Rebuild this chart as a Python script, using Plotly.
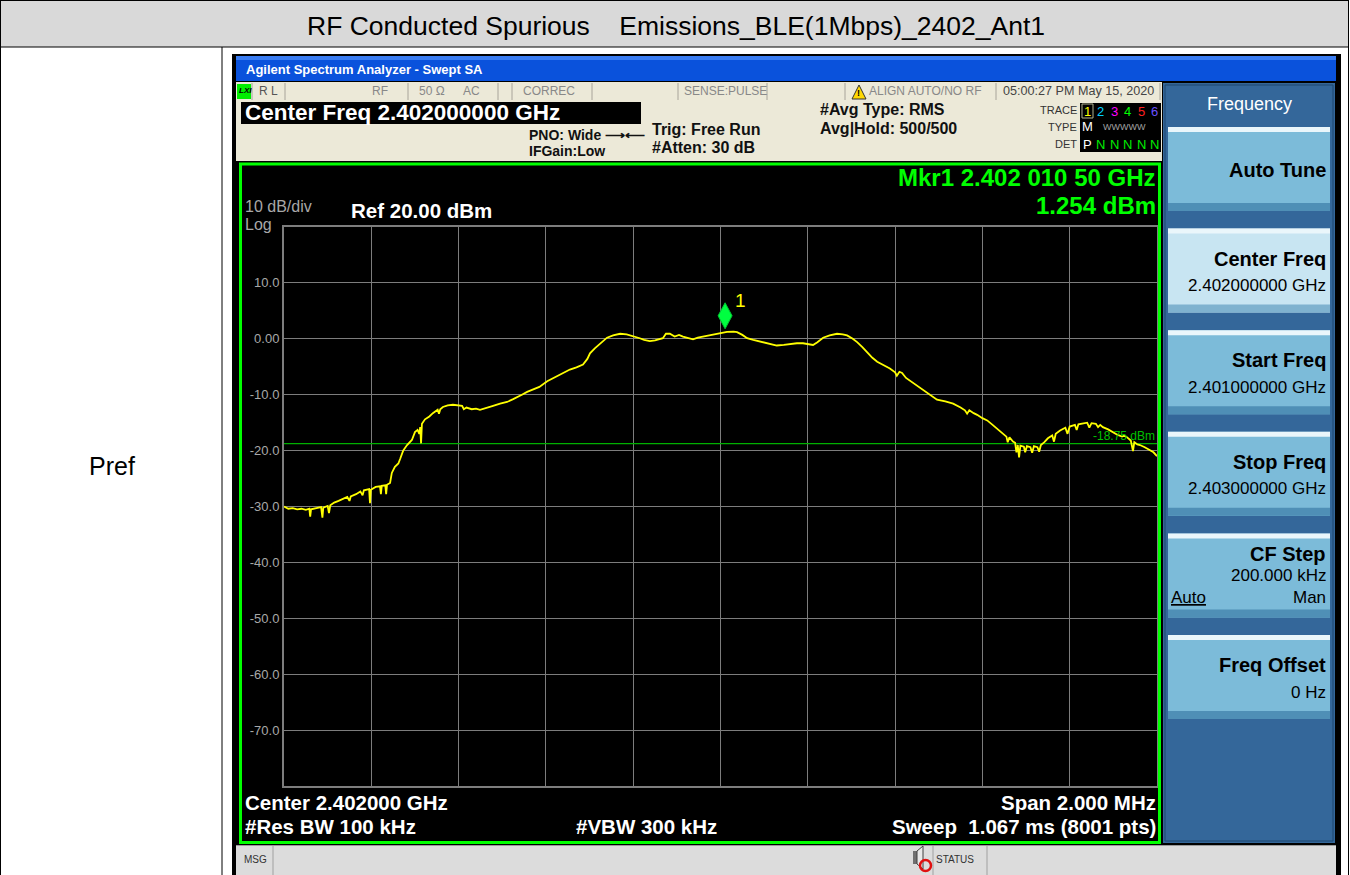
import plotly.graph_objects as go

# ---------------- data ----------------
start_ghz = 2.401
stop_ghz = 2.403
center_ghz = 2.402
ref_dbm = 20.0
bottom_dbm = -80.0

# trace: frequency offset from start (MHz) and level (dBm)
trace_off_mhz = [
    0.000, 0.010, 0.020, 0.030, 0.040, 0.050, 0.058, 0.060, 0.062, 0.075, 0.085, 0.088, 0.090,
    0.100, 0.103, 0.106, 0.115, 0.125, 0.135, 0.145, 0.150, 0.153, 0.165, 0.175, 0.180, 0.183,
    0.195, 0.197, 0.199, 0.210, 0.220, 0.222, 0.224, 0.232, 0.234, 0.236, 0.243, 0.247, 0.254,
    0.262, 0.266, 0.273, 0.282, 0.293, 0.300, 0.306, 0.310, 0.312, 0.314, 0.316, 0.323, 0.333,
    0.341, 0.352, 0.355, 0.358, 0.364, 0.375, 0.387, 0.398, 0.408, 0.412, 0.418, 0.430, 0.440,
    0.449, 0.460, 0.479, 0.495, 0.511, 0.525, 0.534, 0.545, 0.557, 0.570, 0.585, 0.603, 0.620,
    0.632, 0.645, 0.655, 0.670, 0.685, 0.695, 0.701, 0.712, 0.724, 0.740, 0.754, 0.770, 0.785,
    0.800, 0.815, 0.825, 0.838, 0.850, 0.860, 0.868, 0.875, 0.884, 0.895, 0.905, 0.914, 0.925,
    0.937, 0.948, 0.960, 0.975, 0.992, 1.005, 1.015, 1.030, 1.038, 1.050, 1.061, 1.075, 1.090,
    1.110, 1.129, 1.145, 1.159, 1.175, 1.189, 1.200, 1.212, 1.222, 1.235, 1.250, 1.267, 1.280,
    1.290, 1.303, 1.313, 1.325, 1.336, 1.348, 1.359, 1.375, 1.388, 1.400, 1.404, 1.410, 1.416,
    1.425, 1.434, 1.446, 1.457, 1.475, 1.496, 1.515, 1.533, 1.550, 1.560, 1.565, 1.570, 1.580,
    1.588, 1.600, 1.611, 1.622, 1.633, 1.645, 1.655, 1.658, 1.662, 1.670, 1.675, 1.678, 1.681,
    1.684, 1.687, 1.695, 1.698, 1.702, 1.710, 1.714, 1.718, 1.726, 1.730, 1.734, 1.742, 1.750,
    1.760, 1.764, 1.768, 1.778, 1.790, 1.795, 1.800, 1.812, 1.816, 1.820, 1.830, 1.840, 1.845,
    1.850, 1.860, 1.865, 1.870, 1.876, 1.888, 1.899, 1.910, 1.920, 1.925, 1.931, 1.940, 1.945,
    1.948, 1.955, 1.961, 1.972, 1.984, 1.992, 2.000,
]
trace_dbm = [
    -30.0, -30.4, -30.3, -30.5, -30.4, -30.6, -30.4, -31.8, -30.5, -30.3, -30.1, -32.0, -30.2,
    -29.9, -31.2, -29.8, -29.3, -29.0, -28.7, -28.3, -29.0, -28.2, -27.8, -27.3, -28.0, -27.1,
    -26.9, -29.4, -27.0, -26.5, -26.4, -27.8, -26.3, -26.2, -27.8, -26.1, -25.8, -24.0, -22.9,
    -22.3, -21.5, -20.0, -19.0, -18.1, -16.7, -16.3, -17.0, -15.8, -18.7, -15.2, -14.4, -13.9,
    -13.3, -12.7, -13.4, -12.6, -12.2, -11.9, -11.8, -11.9, -12.0, -12.6, -12.3, -12.6, -12.5,
    -12.7, -12.4, -12.0, -11.6, -11.3, -10.8, -10.5, -10.0, -9.5, -9.1, -8.6, -7.6, -6.9,
    -6.3, -5.8, -5.5, -5.1, -4.6, -3.6, -2.6, -1.7, -0.9, 0.2, 0.6, 0.9, 0.8,
    0.5, 0.1, -0.2, -0.4, -0.3, -0.1, 0.1, 0.9, 0.9, 0.4, 0.7, 0.4, 0.2,
    -0.1, 0.2, 0.4, 0.6, 0.9, 1.1, 1.25, 1.3, 1.2, 0.7, 0.1, -0.2, -0.5,
    -0.9, -1.2, -1.1, -0.9, -0.8, -0.8, -0.9, -1.1, -0.6, 0.2, 0.6, 0.9, 0.8,
    0.6, 0.0, -0.6, -1.5, -2.4, -3.4, -4.1, -4.8, -5.3, -6.0, -6.6, -5.9, -6.1,
    -7.0, -7.5, -8.2, -8.8, -9.8, -10.9, -11.2, -11.6, -12.3, -12.8, -13.4, -12.8, -13.3,
    -13.6, -14.2, -14.6, -15.3, -16.0, -16.9, -17.5, -18.5, -17.6, -18.4, -18.6, -20.3, -19.0,
    -21.2, -19.1, -19.3, -20.3, -19.2, -19.4, -20.4, -19.2, -19.4, -20.2, -19.0, -18.5, -17.8,
    -17.3, -18.4, -17.0, -16.4, -15.9, -17.0, -15.7, -15.4, -16.3, -15.3, -15.1, -15.0, -15.9,
    -15.1, -15.2, -15.8, -15.4, -15.8, -16.2, -16.7, -17.2, -17.5, -17.3, -17.6, -18.2, -20.1,
    -18.5, -18.9, -19.0, -19.4, -19.9, -20.3, -21.0,
]

marker_ghz = 2.4020105
marker_dbm = 1.254
display_line_dbm = -18.75

y_tick_vals = [20, 10, 0, -10, -20, -30, -40, -50, -60, -70, -80]
y_tick_text = ["", "10.0", "0.00", "-10.0", "-20.0", "-30.0", "-40.0", "-50.0", "-60.0", "-70.0", ""]

table_title = "RF Conducted Spurious\u00a0\u00a0\u00a0\u00a0Emissions_BLE(1Mbps)_2402_Ant1"
row_label = "Pref"

softkey_titles = ["Auto Tune", "Center Freq", "Start Freq", "Stop Freq", "CF Step", "Freq Offset"]
softkey_values = ["", "2.402000000 GHz", "2.401000000 GHz", "2.403000000 GHz", "200.000 kHz", "0 Hz"]

trace_nums = ["1", "2", "3", "4", "5", "6"]
trace_num_colors = ["#ffff00", "#00d0ff", "#ff00ff", "#00ff00", "#ff2020", "#6a50ff"]

# ---------------- helpers ----------------
W, H = 1350, 875
FONT = "Arial, Liberation Sans, sans-serif"


def px(x):
    return x / W


def py(y):
    return 1 - y / H


shapes = []
annotations = []


def rect(x0, y0, x1, y1, fill, line_color=None, line_width=0, layer="below"):
    shapes.append(dict(type="rect", xref="paper", yref="paper",
                       x0=px(x0), x1=px(x1), y0=py(y1), y1=py(y0),
                       fillcolor=fill,
                       line=dict(color=line_color or fill, width=line_width),
                       layer=layer))


def hline(x0, x1, y, color, width=1, layer="below"):
    shapes.append(dict(type="line", xref="paper", yref="paper",
                       x0=px(x0), x1=px(x1), y0=py(y), y1=py(y),
                       line=dict(color=color, width=width), layer=layer))


def vline(x, y0, y1, color, width=1, layer="below"):
    shapes.append(dict(type="line", xref="paper", yref="paper",
                       x0=px(x), x1=px(x), y0=py(y0), y1=py(y1),
                       line=dict(color=color, width=width), layer=layer))


def text(x, y, s, size, color, anchor="left", bold=False, family=FONT):
    if bold:
        s = "<b>" + s + "</b>"
    annotations.append(dict(xref="paper", yref="paper", x=px(x), y=py(y),
                            text=s, showarrow=False, xanchor=anchor, yanchor="middle",
                            font=dict(size=size, color=color, family=family),
                            borderpad=0))


# ---------------- table ----------------
rect(1, 1, 1348, 47, "#d9d9d9")
hline(0, 1349, 0.5, "black", 1)
hline(0, 1349, 47, "black", 1)
vline(0.5, 0, 875, "black", 1)
vline(1348.5, 0, 875, "black", 1)
vline(222, 47, 875, "black", 1)
text(676, 26, table_title, 26.5, "black", anchor="center")
text(112, 466, row_label, 25, "black", anchor="center")

# ---------------- analyzer window ----------------
rect(232, 54, 1341, 875, "#000000")
# title bar
rect(236, 56, 1336, 81, "#0a52dc")
rect(236, 56, 1336, 60, "#3a7df2")
text(245, 70, "Agilent Spectrum Analyzer - Swept SA", 13, "white", bold=True)
# status row
rect(236, 82, 1162, 101, "#ece9d8")
for xs in [252, 285, 408, 498, 512, 592, 678, 767, 845, 996, 1160]:
    vline(xs, 83, 100, "#a8a49a", 1)
rect(237, 84, 251, 99, "#00ee00")
text(238, 91, "<i>LXI</i>", 8, "black", bold=True)
text(258, 91, "R L", 12, "#555555")
text(371, 91, "RF", 12, "#888888")
text(418, 91, "50 Ω", 12, "#888888")
text(462, 91, "AC", 12, "#888888")
text(522, 91, "CORREC", 12, "#888888")
text(683, 91, "SENSE:PULSE", 12, "#888888")
shapes.append(dict(type="path", xref="paper", yref="paper",
                   path="M {} {} L {} {} L {} {} Z".format(px(852), py(99), px(859), py(85), px(866), py(99)),
                   fillcolor="#ffd800", line=dict(color="#333333", width=1), layer="above"))
text(859, 93, "!", 9, "black", anchor="center", bold=True)
text(868, 91, "ALIGN AUTO/NO RF", 12, "#888888")
text(1002, 91, "05:00:27 PM May 15, 2020", 12.6, "#444444")
# second row
rect(236, 101, 1162, 161, "#ece9d8")
rect(241, 102, 641, 124, "#000000")
text(244, 113, "Center Freq 2.402000000 GHz", 22.5, "white", bold=True)
text(528, 135, "PNO: Wide ⟶⟵", 14, "#111111", bold=True)
text(528, 151, "IFGain:Low", 14, "#111111", bold=True)
text(651, 129, "Trig: Free Run", 16, "#111111", bold=True)
text(651, 147, "#Atten: 30 dB", 16, "#111111", bold=True)
text(819, 110, "#Avg Type: RMS", 16, "#111111", bold=True)
text(819, 128, "Avg|Hold: 500/500", 16, "#111111", bold=True)
text(1078, 110, "TRACE", 11, "#333333", anchor="right")
text(1078, 127, "TYPE", 11, "#333333", anchor="right")
text(1078, 144, "DET", 11, "#333333", anchor="right")
rect(1080, 103, 1161, 152, "#000000")
rect(1082, 104, 1093, 118, "#000000", line_color="#b0b090", line_width=1, layer="above")
for i, (t, c) in enumerate(zip(trace_nums, trace_num_colors)):
    text(1087 + i * 13.5, 111, t, 13, c, anchor="center")
text(1087, 127, "M", 13, "#ffffff", anchor="center")
text(1124, 127, "WWWWW", 9, "#a0a0a0", anchor="center")
text(1087, 144, "P", 13, "#ffffff", anchor="center")
for i in range(1, 6):
    text(1087 + i * 13.5, 144, "N", 13, "#00ee00", anchor="center")

# display area
rect(240, 163, 1160, 843, "#000000")
rect(240.5, 164, 1159.5, 842.5, "rgba(0,0,0,0)", line_color="#00ff00", line_width=3, layer="above")
text(244, 207, "10 dB/div", 16, "#a8a8a8")
text(244, 225, "Log", 16, "#a8a8a8")
text(350, 210, "Ref 20.00 dBm", 20.5, "#ffffff", bold=True)
text(1157, 178, "Mkr1 2.402 010 50 GHz", 24, "#00ff00", anchor="right", bold=True)
text(1157, 205, "1.254 dBm", 24, "#00ff00", anchor="right", bold=True)
text(244, 802, "Center 2.402000 GHz", 20.5, "#ffffff", bold=True)
text(244, 826, "#Res BW 100 kHz", 20.5, "#ffffff", bold=True)
text(575, 826, "#VBW 300 kHz", 20.5, "#ffffff", bold=True)
text(1157, 802, "Span 2.000 MHz", 20.5, "#ffffff", anchor="right", bold=True)
text(1157, 826, "Sweep\u00a0\u00a01.067 ms (8001 pts)", 20.5, "#ffffff", anchor="right", bold=True)

# MSG bar
rect(236, 845, 1336, 875, "#dcdcdc")
hline(236, 1336, 845.5, "#9a9a9a", 1)
vline(273, 846, 875, "#a0a0a0", 1)
vline(933, 846, 875, "#a0a0a0", 1)
vline(987, 846, 875, "#a0a0a0", 1)
text(243, 859, "MSG", 10, "#333333")
text(935, 859, "STATUS", 10, "#333333")
rect(913, 851, 917, 864, "#707070")
shapes.append(dict(type="path", xref="paper", yref="paper",
                   path="M {} {} L {} {} L {} {} L {} {} Z".format(px(917), py(851), px(923), py(846),
                                                                    px(923), py(869), px(917), py(864)),
                   fillcolor="#e8e8e8", line=dict(color="#404040", width=1), layer="above"))
shapes.append(dict(type="circle", xref="paper", yref="paper",
                   x0=px(920), x1=px(931), y0=py(871), y1=py(860),
                   fillcolor="rgba(0,0,0,0)", line=dict(color="#e01010", width=2.5), layer="above"))

# softkey panel
rect(1163, 83, 1335, 843, "#34679a")
rect(1165, 85, 1333, 841, "#34679a", line_color="#1d466f", line_width=1)
text(1249, 104, "Frequency", 18, "#ffffff", anchor="center")
for i, (title, val) in enumerate(zip(softkey_titles, softkey_values)):
    top = 127 + i * 101.6
    body = "#c8e5f2" if i == 1 else "#7cbbd9"
    rect(1168, top, 1330, top + 84, body)
    rect(1168, top, 1330, top + 5, "#eaf6fb")
    rect(1168, top + 76, 1330, top + 84, "#4f8fb6" if i != 1 else "#7fb2cf")
    if val == "":
        text(1327, top + 43, title, 20, "#000000", anchor="right", bold=True)
    elif title == "CF Step":
        text(1327, top + 21, title, 20, "#000000", anchor="right", bold=True)
        text(1327, top + 42, val, 17, "#000000", anchor="right")
        text(1170, top + 64, "<u>Auto</u>", 17, "#000000")
        text(1327, top + 64, "Man", 17, "#000000", anchor="right")
    else:
        text(1327, top + 30, title, 20, "#000000", anchor="right", bold=True)
        text(1327, top + 57, val, 17, "#000000", anchor="right")

# ---------------- traces ----------------
freq_ghz = [start_ghz + o * 1e-3 for o in trace_off_mhz]

fig = go.Figure()
fig.add_trace(go.Scatter(x=[start_ghz, stop_ghz], y=[display_line_dbm, display_line_dbm],
                         mode="lines", line=dict(color="#00b000", width=1.3),
                         hoverinfo="skip", showlegend=False))
fig.add_trace(go.Scatter(x=freq_ghz, y=trace_dbm, mode="lines",
                         line=dict(color="#ffff00", width=1.8),
                         showlegend=False))

# marker diamond drawn above the marker point (pixel-sized, anchored to the data point)
shapes.append(dict(type="path", xref="x", yref="y", xsizemode="pixel", ysizemode="pixel",
                   xanchor=marker_ghz, yanchor=marker_dbm,
                   path="M 0 3 L 7 16 L 0 29 L -7 16 Z",
                   fillcolor="#00ff40", line=dict(color="#00c030", width=1), layer="above"))
annotations.append(dict(xref="x", yref="y", x=marker_ghz, y=marker_dbm, text="1",
                        showarrow=False, xanchor="left", yanchor="middle", xshift=8, yshift=31,
                        font=dict(size=19, color="#ffff00", family=FONT)))
annotations.append(dict(xref="x", yref="y", x=stop_ghz, y=display_line_dbm, text="-18.75 dBm",
                        showarrow=False, xanchor="right", yanchor="bottom", yshift=-1,
                        font=dict(size=12, color="#00c000", family=FONT)))

grid = "#7d7d7d"
fig.update_layout(
    width=W, height=H,
    margin=dict(l=0, r=0, t=0, b=0),
    paper_bgcolor="white",
    plot_bgcolor="black",
    shapes=shapes,
    annotations=annotations,
    xaxis=dict(domain=[px(284), px(1157)], range=[start_ghz, stop_ghz],
               tickvals=[start_ghz + 0.0002 * i for i in range(11)],
               showticklabels=False, ticks="", showgrid=True, gridcolor=grid, gridwidth=1,
               zeroline=False, showline=True, linecolor=grid, linewidth=2, mirror=True),
    yaxis=dict(domain=[py(786), py(227)], range=[bottom_dbm, ref_dbm],
               tickvals=y_tick_vals, ticktext=y_tick_text, ticks="",
               tickfont=dict(size=13, color="#a8a8a8", family=FONT),
               showgrid=True, gridcolor=grid, gridwidth=1,
               zeroline=False, showline=True, linecolor=grid, linewidth=2, mirror=True),
    font=dict(family=FONT),
)
fig.write_html("out.html", config={"displayModeBar": False},
               post_script="document.body.style.margin='0';document.body.style.overflow='hidden';")
